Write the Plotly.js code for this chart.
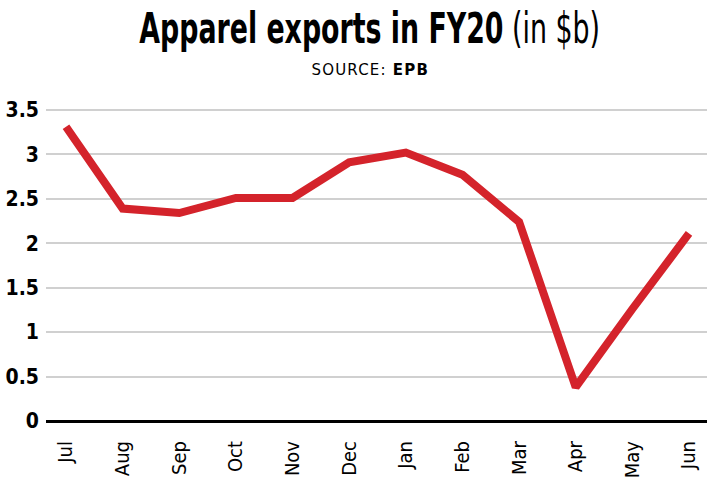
<!DOCTYPE html>
<html>
<head>
<meta charset="utf-8">
<script src="https://cdn.plot.ly/plotly-3.0.1.min.js"></script>
<style>html,body{margin:0;padding:0;background:#fff;}#chart{width:707px;height:481px;}
#chart .xtick text, #chart .ytick text{font-stretch:condensed !important;}
#chart g.annotation[data-index="0"] text{font-stretch:condensed !important;transform-box:fill-box;transform-origin:center;transform:scaleX(0.71);}
#chart g.annotation[data-index="1"] text{letter-spacing:1.2px;}
</style>
</head>
<body>
<div id="chart"></div>
<script>
const months = ["Jul","Aug","Sep","Oct","Nov","Dec","Jan","Feb","Mar","Apr","May","Jun"];
const exportsBn = [3.31, 2.39, 2.34, 2.51, 2.51, 2.91, 3.02, 2.77, 2.24, 0.38, 1.26, 2.11];
const yTickVals = [0, 0.5, 1, 1.5, 2, 2.5, 3, 3.5];
const yTickText = ["0", "0.5", "1", "1.5", "2", "2.5", "3", "3.5"];

const narrow = "'DejaVu Sans Condensed', 'DejaVu Sans', sans-serif";

const trace = {
  x: months,
  y: exportsBn,
  type: 'scatter',
  mode: 'lines',
  line: {color: '#d4232b', width: 8},
  hoverinfo: 'x+y'
};

const layout = {
  width: 707,
  height: 481,
  margin: {l: 46, r: 0, t: 101, b: 60},
  paper_bgcolor: '#fff',
  plot_bgcolor: '#fff',
  showlegend: false,
  xaxis: {
    type: 'category',
    range: [-0.353, 11.318],
    showgrid: false,
    zeroline: false,
    showline: false,
    ticks: '',
    tickangle: -90,
    ticklabelstandoff: 15,
    tickfont: {family: narrow, size: 20, color: '#000'},
    automargin: false
  },
  yaxis: {
    range: [0, 3.6],
    tickvals: yTickVals,
    ticktext: yTickText,
    showgrid: true,
    gridcolor: '#d0d0d0',
    gridwidth: 2,
    zeroline: true,
    zerolinecolor: '#000',
    zerolinewidth: 3,
    showline: false,
    ticks: '',
    ticklabelstandoff: 6,
    tickfont: {family: narrow, size: 21, color: '#000', weight: 'bold'},
    automargin: false
  },
  annotations: [
    {
      xref: 'paper', yref: 'paper', x: 0.49, y: 1.228,
      xanchor: 'center', yanchor: 'middle', showarrow: false,
      text: "<b>Apparel exports in FY20</b> (in $b)",
      font: {family: narrow, size: 42, color: '#000'}
    },
    {
      xref: 'paper', yref: 'paper', x: 0.49, y: 1.097,
      xanchor: 'center', yanchor: 'middle', showarrow: false,
      text: "SOURCE: <b>EPB</b>",
      font: {family: "'DejaVu Sans', sans-serif", size: 15, color: '#000'}
    }
  ]
};

Plotly.newPlot('chart', [trace], layout, {displayModeBar: false, staticPlot: true});
</script>
</body>
</html>
